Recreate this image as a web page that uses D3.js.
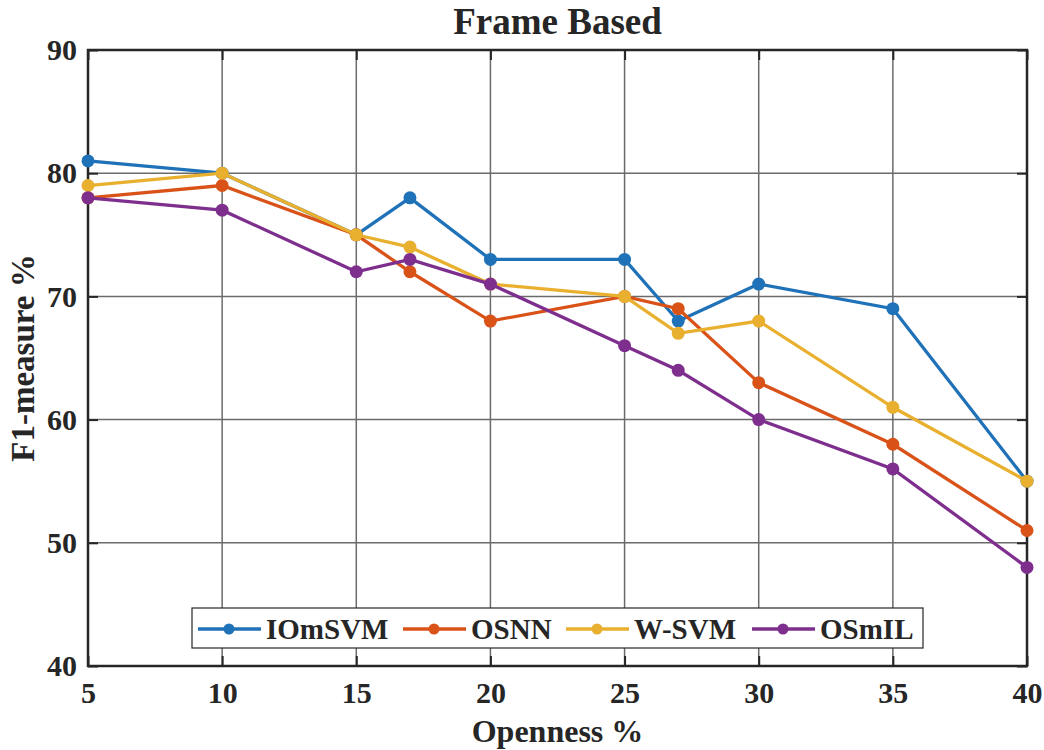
<!DOCTYPE html>
<html>
<head>
<meta charset="utf-8">
<script src="https://cdn.jsdelivr.net/npm/d3@7"></script>
<style>
  body { margin: 0; background: #fff; }
  text { font-family: "Liberation Serif", "Times New Roman", serif; font-weight: bold; fill: #262626; }
</style>
</head>
<body>
<svg id="chart"></svg>
<script>
// openness levels on the x axis
var openness = [5, 10, 15, 17, 20, 25, 27, 30, 35, 40];
var xTicks = [5, 10, 15, 20, 25, 30, 35, 40];
var yTicks = [40, 50, 60, 70, 80, 90];

var seriesNames = ["IOmSVM", "OSNN", "W-SVM", "OSmIL"];
var seriesColors = ["#1f72b8", "#d95319", "#e9b030", "#7e2f8e"];
var iomsvm = [81, 80, 75, 78, 73, 73, 68, 71, 69, 55];
var osnn = [78, 79, 75, 72, 68, 70, 69, 63, 58, 51];
var wsvm = [79, 80, 75, 74, 71, 70, 67, 68, 61, 55];
var osmil = [78, 77, 72, 73, 71, 66, 64, 60, 56, 48];
var allSeries = [iomsvm, osnn, wsvm, osmil];

var width = 1044, height = 750;
var margin = { top: 50, right: 17, bottom: 84, left: 88 };
var w = width - margin.left - margin.right;
var h = height - margin.top - margin.bottom;

var svg = d3.select("#chart").attr("width", width).attr("height", height);
var g = svg.append("g").attr("transform", `translate(${margin.left},${margin.top})`);

var x = d3.scaleLinear().domain([5, 40]).range([0, w]);
var y = d3.scaleLinear().domain([40, 90]).range([h, 0]);

// grid
g.selectAll(".vgrid").data(xTicks).enter().append("line")
  .attr("x1", d => x(d)).attr("x2", d => x(d))
  .attr("y1", 0).attr("y2", h)
  .attr("stroke", "#6b6b6b").attr("stroke-width", 1.5);
g.selectAll(".hgrid").data(yTicks).enter().append("line")
  .attr("x1", 0).attr("x2", w)
  .attr("y1", d => y(d)).attr("y2", d => y(d))
  .attr("stroke", "#6b6b6b").attr("stroke-width", 1.5);

// axes (ticks pointing inward, on all four sides)
var tickLen = 10;
var xAxis = d3.axisBottom(x).tickValues(xTicks).tickSizeInner(-tickLen).tickSizeOuter(0).tickPadding(16);
var yAxis = d3.axisLeft(y).tickValues(yTicks).tickSizeInner(-tickLen).tickSizeOuter(0).tickPadding(11);
var xTop = d3.axisTop(x).tickValues(xTicks).tickSizeInner(-tickLen).tickSizeOuter(0).tickFormat("");
var yRight = d3.axisRight(y).tickValues(yTicks).tickSizeInner(-tickLen).tickSizeOuter(0).tickFormat("");

function styleAxis(sel) {
  sel.select(".domain").remove();
  sel.selectAll(".tick line").attr("stroke", "#262626").attr("stroke-width", 2);
  sel.selectAll(".tick text").style("font-size", "30px").attr("fill", "#262626");
}
g.append("g").attr("transform", `translate(0,${h})`).call(xAxis).call(styleAxis);
g.append("g").call(yAxis).call(styleAxis);
g.append("g").call(xTop).call(styleAxis);
g.append("g").attr("transform", `translate(${w},0)`).call(yRight).call(styleAxis);

g.append("rect").attr("width", w).attr("height", h)
  .attr("fill", "none").attr("stroke", "#262626").attr("stroke-width", 2.5);

// lines and markers
var line = d3.line().x((d, i) => x(openness[i])).y(d => y(d));
allSeries.forEach(function (vals, k) {
  g.append("path").datum(vals)
    .attr("d", line)
    .attr("fill", "none")
    .attr("stroke", seriesColors[k])
    .attr("stroke-width", 3.3);
  g.selectAll(".pt" + k).data(vals).enter().append("circle")
    .attr("cx", (d, i) => x(openness[i]))
    .attr("cy", d => y(d))
    .attr("r", 6.5)
    .attr("fill", seriesColors[k]);
});

// legend
var lg = svg.append("g").attr("transform", "translate(192,608)");
lg.append("rect").attr("width", 731).attr("height", 40)
  .attr("fill", "#fff").attr("stroke", "#262626").attr("stroke-width", 1.2);
var legendX = [6, 211, 374, 560];
seriesNames.forEach(function (name, k) {
  var item = lg.append("g").attr("transform", `translate(${legendX[k]},21)`);
  item.append("line").attr("x1", 0).attr("x2", 63)
    .attr("stroke", seriesColors[k]).attr("stroke-width", 3.3);
  item.append("circle").attr("cx", 31).attr("r", 5.5).attr("fill", seriesColors[k]);
  item.append("text").attr("x", 68).attr("dy", "0.35em")
    .style("font-size", "29px").text(name);
});

// titles
svg.append("text").attr("x", margin.left + w / 2).attr("y", 34)
  .attr("text-anchor", "middle").style("font-size", "37px").text("Frame Based");
svg.append("text").attr("x", margin.left + w / 2).attr("y", 742)
  .attr("text-anchor", "middle").style("font-size", "32px").text("Openness %");
svg.append("text")
  .attr("transform", `translate(34,${margin.top + h / 2}) rotate(-90)`)
  .attr("text-anchor", "middle").style("font-size", "33px").text("F1-measure %");
</script>
</body>
</html>
